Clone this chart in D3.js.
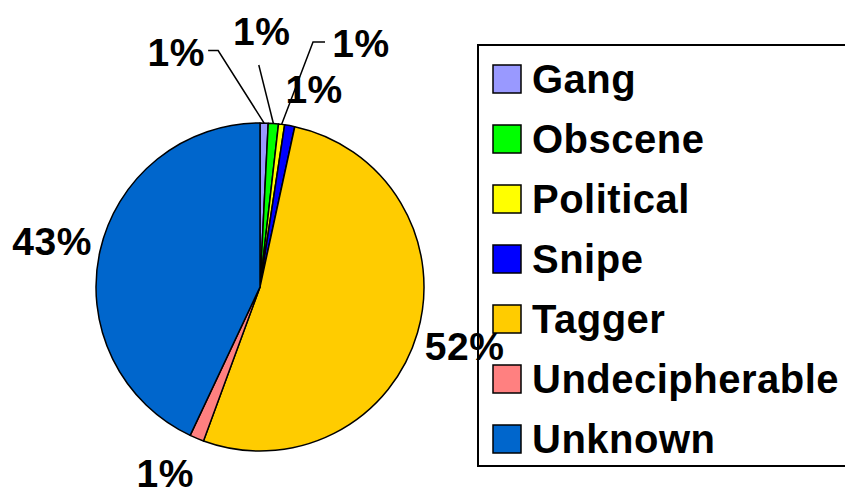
<!DOCTYPE html>
<html><head><meta charset="utf-8">
<script src="https://cdn.jsdelivr.net/npm/d3@7"></script>
<style>html,body{margin:0;padding:0;background:#fff;}svg{display:block;}</style>
</head><body>
<svg id="chart" width="845" height="494"></svg>
<script>
const categories = ["Gang","Obscene","Political","Snipe","Tagger","Undecipherable","Unknown"];
const values = [0.8, 1.0, 0.6, 1.0, 52.2, 1.4, 43.0];
const colors = ["#9999FF","#00FF00","#FFFF00","#0000FF","#FFCC00","#FF8080","#0066CC"];

// layout (label placement for crowded small slices)
const labelNudge = {
  Gang:      {angle: -19.6, radius: 250, leader: [[42,-1],[32,-1]]},
  Obscene:   {angle: 0.4,   radius: 256, leader: [[-3,34]]},
  Political: {angle: 22.5,  radius: 264, leader: [[-48,-1],[-36,-1]]},
  Snipe:     {angle: 15.3,  radius: 205, leader: null},
  Undecipherable: {angle: 207, radius: 209, leader: null}
};

const svg = d3.select("#chart");
const cx = 260, cy = 287, r = 164, labelR = 213;
const fontFam = "'Liberation Sans', Arial, sans-serif";

const total = d3.sum(values);
const data = categories.map((c,i)=>({name:c, value:values[i], color:colors[i]}));
const pie = d3.pie().value(d=>d.value).sort(null);
const arcs = pie(data);
const arc = d3.arc().innerRadius(0).outerRadius(r);

const g = svg.append("g").attr("transform",`translate(${cx},${cy})`);
g.selectAll("path").data(arcs).join("path")
  .attr("d", arc)
  .attr("fill", d=>d.data.color)
  .attr("stroke","#000").attr("stroke-width",1.5).attr("stroke-linejoin","round");

// legend
const lg = svg.append("g");
lg.append("rect").attr("x",478).attr("y",45).attr("width",380).attr("height",421)
  .attr("fill","#fff").attr("stroke","#000").attr("stroke-width",2);
const rowY = d3.scalePoint().domain(categories).range([65, 425]);
const items = lg.selectAll("g.item").data(data).join("g").attr("class","item")
  .attr("transform", d=>`translate(0,${rowY(d.name)})`);
items.append("rect").attr("x",493).attr("y",0).attr("width",28).attr("height",28)
  .attr("fill",d=>d.color).attr("stroke","#000").attr("stroke-width",1.5);
items.append("text").attr("x",532).attr("y",28)
  .attr("font-family",fontFam).attr("font-weight","bold").attr("font-size",40)
  .attr("letter-spacing","0.5px")
  .attr("fill","#000").text(d=>d.name);

// data labels (drawn above legend, as in reference)
const lab = svg.append("g").attr("transform",`translate(${cx},${cy})`);
function polar(angleRad, rad){ return [rad*Math.sin(angleRad), -rad*Math.cos(angleRad)]; }
arcs.forEach(a=>{
  const mid = (a.startAngle + a.endAngle)/2;
  const nudge = labelNudge[a.data.name];
  const pos = nudge ? polar(nudge.angle*Math.PI/180, nudge.radius) : polar(mid, labelR);
  const pct = Math.max(1, Math.round(a.data.value/total*100)) + "%";
  if (nudge && nudge.leader){
    const start = polar(mid, r);
    const pts = [start].concat(nudge.leader.map(p=>[pos[0]+p[0], pos[1]+p[1]]));
    lab.append("path").attr("d", d3.line()(pts))
      .attr("fill","none").attr("stroke","#000").attr("stroke-width",1.5);
  }
  lab.append("text").attr("x",pos[0]).attr("y",pos[1]).attr("dy","0.36em")
    .attr("text-anchor","middle")
    .attr("font-family",fontFam).attr("font-weight","bold").attr("font-size",39)
    .attr("letter-spacing","0.5px")
    .attr("fill","#000").text(pct);
});
</script>
</body></html>
